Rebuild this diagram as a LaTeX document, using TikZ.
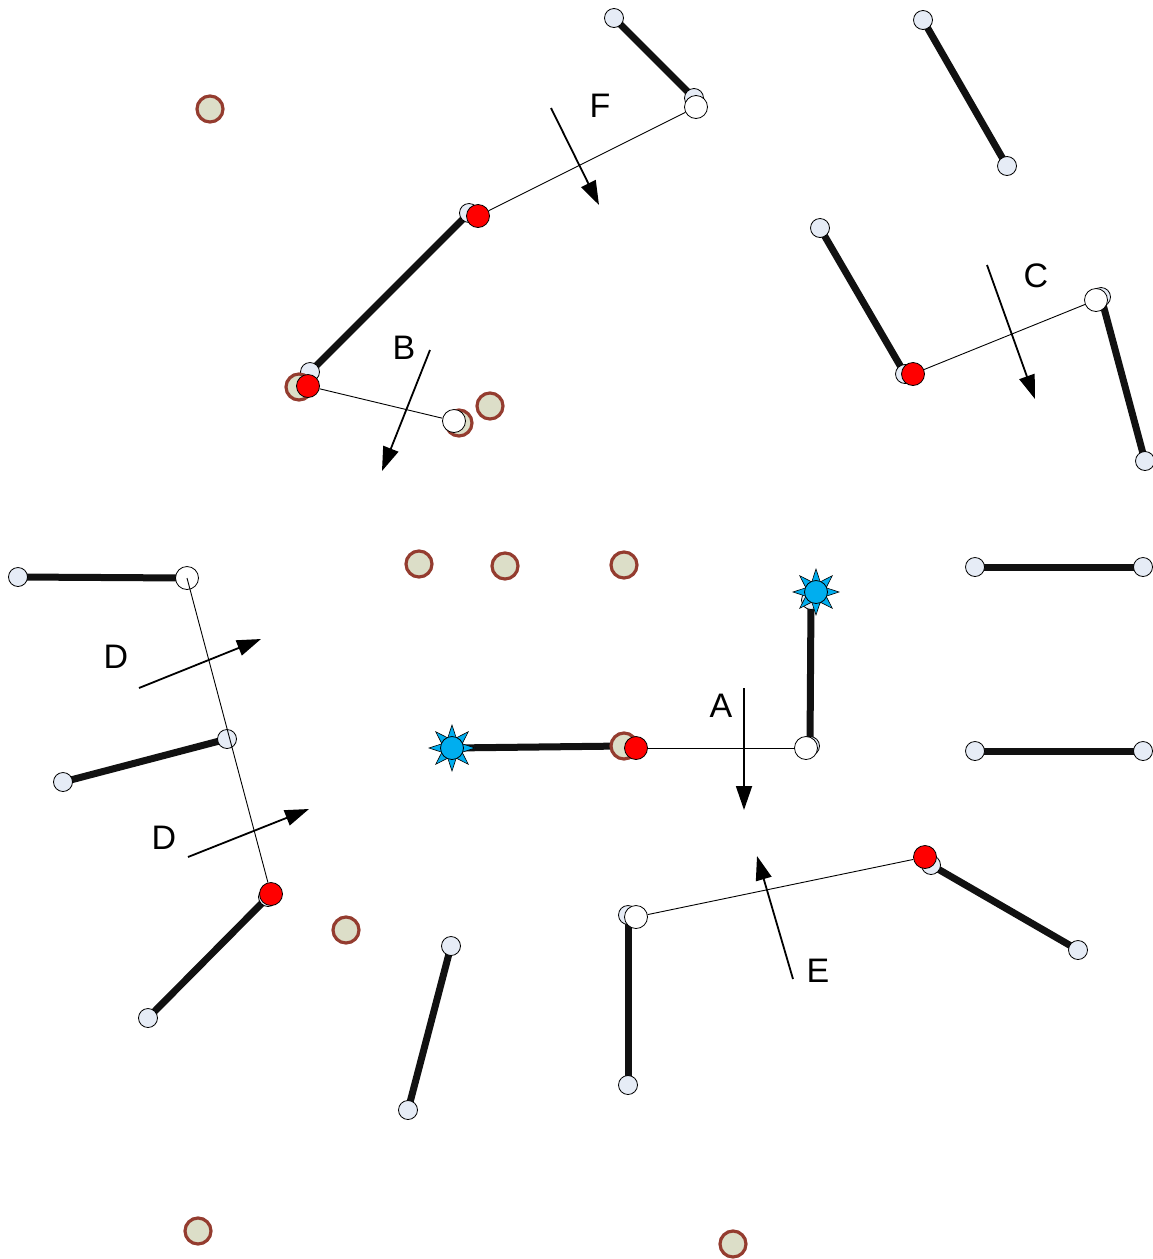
\documentclass[tikz,border=0pt]{standalone}
\usepackage{fontspec}
\setmainfont{Liberation Sans}
\usetikzlibrary{arrows.meta,shapes.geometric}
\pgfdeclarelayer{bglines}
\pgfsetlayers{bglines,main}
\definecolor{smfill}{HTML}{E6ECF6}
\definecolor{beigefill}{HTML}{DCDEC8}
\definecolor{beigeline}{HTML}{943C2F}
\definecolor{starblue}{HTML}{00AEEF}
\definecolor{segblack}{HTML}{111111}
\tikzset{
  sm/.style={circle,draw=black,line width=0.8pt,fill=smfill,minimum size=19pt,inner sep=0pt},
  wh/.style={circle,draw=black,line width=0.8pt,fill=white,minimum size=23pt,inner sep=0pt},
  rd/.style={circle,draw=black,line width=0.8pt,fill=red,minimum size=23pt,inner sep=0pt},
  bge/.style={circle,draw=beigeline,line width=3.2pt,fill=beigefill,minimum size=26pt,inner sep=0pt},
  sunstar/.style={star,star points=8,star point ratio=2.1,draw=black,line width=0.6pt,fill=starblue,minimum size=46pt,inner sep=0pt},
  sundisc/.style={circle,draw=black,line width=0.8pt,fill=starblue,minimum size=23pt,inner sep=0pt},
  seg/.style={line width=7pt,draw=segblack},
  lnk/.style={line width=0.9pt,draw=black},
  arr/.style={line width=1.8pt,draw=black,-{Triangle[length=24pt,width=16pt]}},
  lbl/.style={font=\fontsize{34}{40}\selectfont,inner sep=0pt}
}
\begin{document}
\begin{tikzpicture}[x=1pt,y=-1pt]
\useasboundingbox (0,0) rectangle (1153,1259);
% free-standing beige circles
\node[bge] (g01) at (210,109) {};
\node[bge] (g02) at (490,406) {};
\node[bge] (g03) at (419,564) {};
\node[bge] (g04) at (505,566) {};
\node[bge] (g05) at (624,565) {};
\node[bge] (g06) at (346,930) {};
\node[bge] (g07) at (198,1231) {};
\node[bge] (g08) at (733,1244) {};
% segment 1
\node[sm] (s1a) at (614,18) {};
\node[sm] (s1b) at (694,98) {};
\node[wh] (w1) at (696,107) {};
% segment 2
\node[sm] (s2a) at (923,20) {};
\node[sm] (s2b) at (1007,166) {};
% segment 3
\node[sm] (s3a) at (469,213) {};
\node[rd] (r3a) at (478,216) {};
\node[sm] (s3b) at (310,372) {};
\node[bge] (g3) at (299,387) {};
\node[rd] (r3b) at (308,386) {};
\node[bge] (gb1) at (459,423) {};
\node[wh] (wb) at (454,421) {};
% segment 4
\node[sm] (s4a) at (820,228) {};
\node[sm] (s4b) at (905,374) {};
\node[rd] (r4) at (913,374) {};
% segment 5
\node[sm] (s5a) at (1101,297) {};
\node[wh] (w5) at (1096,300) {};
\node[sm] (s5b) at (1145,461) {};
% segments 6,7
\node[sm] (s6a) at (975,567) {};
\node[sm] (s6b) at (1143,567) {};
\node[sm] (s7a) at (975,751) {};
\node[sm] (s7b) at (1143,751) {};
% segment 8
\node[sm] (s8a) at (18,577) {};
\node[wh] (w8) at (187,578) {};
% segment 9
\node[sm] (s9a) at (63,782) {};
\node[sm] (s9b) at (227,739) {};
% segment 10
\node[sm] (s10a) at (148,1018) {};
\node[sm] (s10b) at (268,897) {};
\node[rd] (r10) at (271,894) {};
% segment 11
\node[sm] (s11a) at (451,946) {};
\node[sm] (s11b) at (408,1110) {};
% segment 12
\node[sm] (s12a) at (628,915) {};
\node[wh] (w12) at (636,917) {};
\node[sm] (s12b) at (628,1085) {};
% segment 13
\node[sm] (s13a) at (931,865) {};
\node[rd] (r13) at (925,857) {};
\node[sm] (s13b) at (1078,950) {};
% segment 14
\node[sunstar] (st14) at (452,748) {};
\node[sundisc] (sd14) at (452,748) {};
\node[bge] (g14) at (624,746) {};
\node[rd] (r14) at (636,748) {};
% segment 15
\node[sm] (s15b) at (810,746) {};
\node[wh] (w15) at (806,748) {};
\node[sm] (s15a) at (811,600) {};
\node[sunstar] (st15) at (816,592) {};
\node[sundisc] (sd15) at (816,592) {};

\begin{pgfonlayer}{bglines}
\draw[seg] (s1a.center) -- (s1b.center);
\draw[seg] (s2a.center) -- (s2b.center);
\draw[seg] (s3a.center) -- (s3b.center);
\draw[seg] (s4a.center) -- (s4b.center);
\draw[seg] (s5a.center) -- (s5b.center);
\draw[seg] (s6a.center) -- (s6b.center);
\draw[seg] (s7a.center) -- (s7b.center);
\draw[seg] (s8a.center) -- (w8.center);
\draw[seg] (s9a.center) -- (s9b.center);
\draw[seg] (s10a.center) -- (s10b.center);
\draw[seg] (s11a.center) -- (s11b.center);
\draw[seg] (s12a.center) -- (s12b.center);
\draw[seg] (s13a.center) -- (s13b.center);
\draw[seg] (st14.center) -- (g14.center);
\draw[seg] (s15a.center) -- (s15b.center);
\end{pgfonlayer}

% thin links
\draw[lnk] (w1) -- (r3a);
\draw[lnk] (r3b) -- (wb);
\draw[lnk] (r4) -- (w5);
\draw[lnk] (w8.center) -- (r10);
\draw[lnk] (r14) -- (w15);
\draw[lnk] (w12) -- (r13);

% arrows and labels
\coordinate (fa) at (551,108); \coordinate (fb) at (599,205);
\draw[arr] (fa) -- (fb);
\node[lbl] (lf) at (600,106) {F};
\coordinate (ba) at (430,350); \coordinate (bb) at (382,471);
\draw[arr] (ba) -- (bb);
\node[lbl] (lb) at (404,348) {B};
\coordinate (ca) at (987,265); \coordinate (cb) at (1035,399);
\draw[arr] (ca) -- (cb);
\node[lbl] (lc) at (1036,276) {C};
\coordinate (d1a) at (139,688); \coordinate (d1b) at (261,639);
\draw[arr] (d1a) -- (d1b);
\node[lbl] (ld1) at (116,657) {D};
\coordinate (d2a) at (188,857); \coordinate (d2b) at (309,809);
\draw[arr] (d2a) -- (d2b);
\node[lbl] (ld2) at (164,838) {D};
\coordinate (aa) at (744,688); \coordinate (ab) at (744,810);
\draw[arr] (aa) -- (ab);
\node[lbl] (la) at (721,706) {A};
\coordinate (ea) at (793,979); \coordinate (eb) at (757,856);
\draw[arr] (ea) -- (eb);
\node[lbl] (le) at (818,971) {E};
\end{tikzpicture}
\end{document}
